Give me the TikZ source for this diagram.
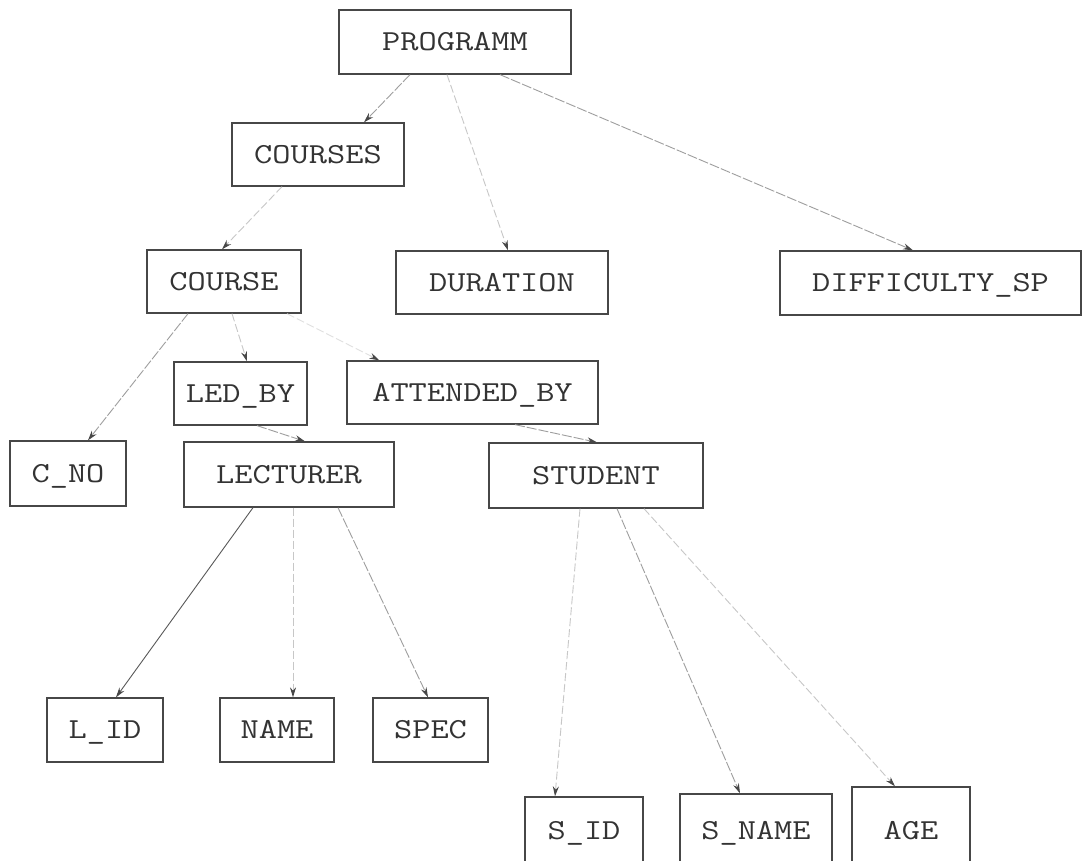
\documentclass[tikz,border=0pt]{standalone}
\usepackage{fontspec}
\usetikzlibrary{arrows.meta}
\newcommand{\boxtxt}[1]{\scalebox{1.22}[1]{#1}}
\begin{document}
\begin{tikzpicture}[x=1pt,y=-1pt,
  box/.style={draw=black!72, line width=1.3pt, rectangle, inner sep=0pt,
    font=\ttfamily\fontsize{29}{30}\selectfont, text=black!80,
    text height=17.7pt, text depth=0pt},
  conn/.style={draw=black!50, line width=0.9pt,
    -{Stealth[length=10pt,width=6pt,color=black!72]}},
  faint/.style={conn, draw=black!22, dash pattern=on 8pt off 3pt},
  mid/.style={conn, draw=black!38, dash pattern=on 10pt off 2pt}
  ]
\path[use as bounding box] (0,0) rectangle (1086,861);
\clip (0,0) rectangle (1086,861);
\fill[white] (0,0) rectangle (1086,861);

% boxes
\node[box, minimum width=232pt, minimum height=64pt] (prog) at (455,42) {\boxtxt{PROGRAMM}};
\node[box, minimum width=172pt, minimum height=63pt] (courses) at (318,154.5) {\boxtxt{COURSES}};
\node[box, minimum width=154pt, minimum height=63pt] (course) at (224,281.5) {\boxtxt{COURSE}};
\node[box, minimum width=212pt, minimum height=63pt] (dur) at (502,282.5) {\boxtxt{DURATION}};
\node[box, minimum width=301pt, minimum height=64pt] (diff) at (930.5,283) {\boxtxt{DIFFICULTY\_SP}\hspace{18pt}};
\node[box, minimum width=133pt, minimum height=63pt] (ledby) at (240.5,393.5) {\boxtxt{LED\_BY}\hspace{16pt}};
\node[box, minimum width=251pt, minimum height=63pt] (att) at (472.5,392.5) {\boxtxt{ATTENDED\_BY}};
\node[box, minimum width=116pt, minimum height=65pt] (cno) at (68,473.5) {\boxtxt{C\_NO}};
\node[box, minimum width=210pt, minimum height=65pt] (lect) at (289,474.5) {\boxtxt{LECTURER}};
\node[box, minimum width=214pt, minimum height=65pt] (stud) at (596,475.5) {\boxtxt{STUDENT}};
\node[box, minimum width=116pt, minimum height=64pt] (lid) at (105,730) {\boxtxt{L\_ID}};
\node[box, minimum width=114pt, minimum height=64pt] (name) at (277,730) {\boxtxt{NAME}};
\node[box, minimum width=115pt, minimum height=64pt] (spec) at (430.5,730) {\boxtxt{SPEC}};
\node[box, minimum width=118pt, minimum height=68pt] (sid) at (584,831) {\boxtxt{S\_ID}};
\node[box, minimum width=152pt, minimum height=74pt] (sname) at (756,831) {\boxtxt{S\_NAME}};
\node[box, minimum width=118pt, minimum height=88pt] (age) at (911,831) {\boxtxt{AGE}};

% connectors
\draw[mid] ([xshift=-45pt]prog.south) -- ([xshift=46pt]courses.north);
\draw[faint] ([xshift=-8pt]prog.south) -- ([xshift=6pt]dur.north);
\draw[mid] ([xshift=45pt]prog.south) -- ([xshift=-17.5pt]diff.north);
\draw[faint] ([xshift=-36pt]courses.south) -- ([xshift=-2pt]course.north);
\draw[mid] ([xshift=-36pt]course.south) -- ([xshift=20pt]cno.north);
\draw[faint] ([xshift=8pt]course.south) -- ([xshift=6.5pt]ledby.north);
\draw[faint, draw=black!12] ([xshift=63pt]course.south) -- ([xshift=33pt]att.north west);
\draw[mid] ([xshift=16.5pt]ledby.south) -- ([xshift=16pt]lect.north);
\draw[mid] ([xshift=42.5pt]att.south) -- ([xshift=1pt]stud.north);
\draw[conn, draw=black!65] ([xshift=-36pt]lect.south) -- ([xshift=11pt]lid.north);
\draw[faint] ([xshift=4pt]lect.south) -- ([xshift=16pt]name.north);
\draw[mid] ([xshift=49pt]lect.south) -- ([xshift=-2.5pt]spec.north);
\draw[faint] ([xshift=-16pt]stud.south) -- ([xshift=-29pt]sid.north);
\draw[mid] ([xshift=21pt]stud.south) -- ([xshift=-16pt]sname.north);
\draw[faint] ([xshift=48pt]stud.south) -- ([xshift=-16pt]age.north);
\end{tikzpicture}
\end{document}
